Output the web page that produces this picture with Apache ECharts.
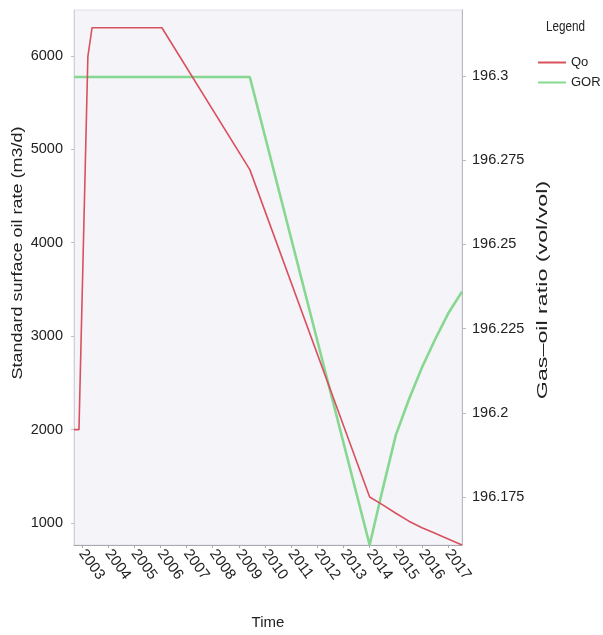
<!DOCTYPE html>
<html>
<head>
<meta charset="utf-8">
<script src="https://cdn.jsdelivr.net/npm/echarts@6/dist/echarts.min.js"></script>
<style>
  html, body { margin: 0; padding: 0; background: #ffffff; }
  #chart { width: 603px; height: 635px; }
</style>
</head>
<body>
<div id="chart"></div>
<script>
// Oil production rate (Qo) over time, decimal years
var qoTime = [2002.7, 2002.89, 2003.23, 2003.39, 2006.06, 2009.42, 2014.0, 2014.5, 2015.0, 2015.5, 2016.0, 2016.5, 2017.0, 2017.53];
var qoRate = [2000, 2000, 5990, 6300, 6300, 4782, 1278, 1195, 1105, 1020, 950, 890, 829, 765];

// Gas-oil ratio (GOR) over time, decimal years
var gorTime = [2002.7, 2009.42, 2014.0, 2014.5, 2015.0, 2015.5, 2016.0, 2016.5, 2017.0, 2017.53];
var gorRatio = [196.2997, 196.2997, 196.1608, 196.1774, 196.1934, 196.204, 196.2135, 196.2218, 196.2295, 196.236];

// Tick labels
var yearTicks = [2003, 2004, 2005, 2006, 2007, 2008, 2009, 2010, 2011, 2012, 2013, 2014, 2015, 2016, 2017];
var rateTicks = [1000, 2000, 3000, 4000, 5000, 6000];
var gorTicks = [196.175, 196.2, 196.225, 196.25, 196.275, 196.3];

function pairs(xs, ys) {
  return xs.map(function (x, i) { return [x, ys[i]]; });
}

var face = "'Liberation Sans', Arial, sans-serif";
var ink = '#222222';

var chart = echarts.init(document.getElementById('chart'), null, { renderer: 'canvas' });

chart.setOption({
  animation: false,
  backgroundColor: '#ffffff',
  legend: {
    orient: 'vertical',
    left: 533,
    top: 51,
    itemWidth: 28,
    itemHeight: 14,
    itemGap: 7,
    icon: 'path://M0,6 L28,6 L28,8 L0,8 Z',
    textStyle: { fontFamily: face, fontSize: 13, color: ink },
    data: ['Qo', 'GOR']
  },
  grid: {
    left: 74, right: 141, top: 10, bottom: 89,
    show: true,
    backgroundColor: '#f4f4f9',
    borderColor: '#e0e0e8',
    borderWidth: 1
  },
  xAxis: {
    type: 'value',
    min: 2002.7,
    max: 2017.53,
    name: 'Time',
    nameLocation: 'middle',
    nameGap: 70,
    nameTextStyle: { fontFamily: face, fontSize: 15, color: ink },
    axisLine: { show: true, lineStyle: { color: '#a8a8b0', width: 1 } },
    axisTick: { show: true, length: 3, customValues: yearTicks, lineStyle: { color: '#a8a8b0' } },
    axisLabel: {
      customValues: yearTicks,
      rotate: -54,
      margin: 6,
      fontFamily: face,
      fontSize: 15,
      color: ink,
      formatter: function (v) { return String(Math.round(v)); }
    },
    splitLine: { show: false }
  },
  yAxis: [
    {
      type: 'value',
      min: 765,
      max: 6490,
      position: 'left',
      axisLine: { show: true, lineStyle: { color: '#d0d0d8' } },
      axisTick: { show: true, length: 3, customValues: rateTicks, lineStyle: { color: '#c0c0c8' } },
      axisLabel: {
        customValues: rateTicks,
        margin: 11,
        fontFamily: face,
        fontSize: 14.5,
        color: ink,
        formatter: function (v) { return String(Math.round(v)); }
      },
      splitLine: { show: false }
    },
    {
      type: 'value',
      min: 196.1608,
      max: 196.3196,
      position: 'right',
      axisLine: { show: true, lineStyle: { color: '#b8b8c0' } },
      axisTick: { show: true, length: 4, customValues: gorTicks, lineStyle: { color: '#b8b8c0' } },
      axisLabel: {
        customValues: gorTicks,
        margin: 10,
        fontFamily: face,
        fontSize: 14.5,
        color: ink,
        formatter: function (v) { return String(parseFloat(v.toFixed(3))); }
      },
      splitLine: { show: false }
    }
  ],
  graphic: [
    {
      // legend heading, condensed horizontally
      type: 'text',
      x: 546, y: 27,
      scaleX: 0.78,
      style: {
        text: 'Legend',
        font: '15px ' + face,
        fill: ink,
        align: 'left',
        verticalAlign: 'middle'
      }
    },
    {
      type: 'text',
      x: 18, y: 253,
      rotation: Math.PI / 2,
      scaleX: 1.2,
      style: {
        text: 'Standard surface oil rate (m3/d)',
        font: '15px ' + face,
        fill: ink,
        align: 'center',
        verticalAlign: 'middle'
      }
    },
    {
      type: 'text',
      x: 543, y: 290,
      rotation: Math.PI / 2,
      scaleX: 1.55,
      style: {
        text: 'Gas\u2013oil ratio (vol/vol)',
        font: '15px ' + face,
        fill: ink,
        align: 'center',
        verticalAlign: 'middle'
      }
    }
  ],
  series: [
    {
      name: 'Qo',
      type: 'line',
      yAxisIndex: 0,
      symbol: 'none',
      data: pairs(qoTime, qoRate),
      lineStyle: { color: '#d9505e', width: 1.6 },
      itemStyle: { color: '#d9505e' },
      z: 3
    },
    {
      name: 'GOR',
      type: 'line',
      yAxisIndex: 1,
      symbol: 'none',
      data: pairs(gorTime, gorRatio),
      lineStyle: { color: '#86d890', width: 2.6 },
      itemStyle: { color: '#86d890' },
      z: 2
    }
  ]
});
</script>
</body>
</html>
